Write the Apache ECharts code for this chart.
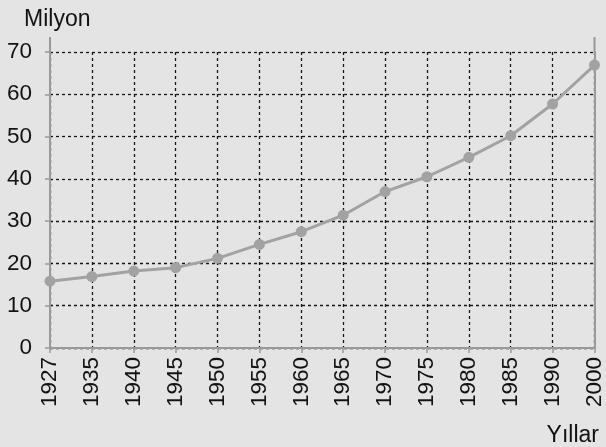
<!DOCTYPE html>
<html>
<head>
<meta charset="utf-8">
<script src="https://cdn.jsdelivr.net/npm/echarts@6/dist/echarts.min.js"></script>
<style>
html,body{margin:0;padding:0;background:#e4e4e4;}
#c{width:606px;height:447px;}
</style>
</head>
<body>
<div id="c"></div>
<script>
const years = ['1927','1935','1940','1945','1950','1955','1960','1965','1970','1975','1980','1985','1990','2000'];
const population = [15.8, 16.9, 18.2, 19.0, 21.2, 24.5, 27.5, 31.4, 37.0, 40.5, 45.1, 50.2, 57.7, 66.9];
const yTicks = [0, 10, 20, 30, 40, 50, 60, 70];
const yTitle = 'Milyon';
const xTitle = 'Yıllar';

(function () {
const FONT = 'Liberation Sans, Arial, sans-serif';
const TXT = '#121212';
const AXIS = '#999999';

const chart = echarts.init(document.getElementById('c'), null, {renderer: 'canvas'});
chart.setOption({
  backgroundColor: '#e4e4e4',
  animation: false,
  title: [
    {text: yTitle, left: 19, top: 3, textStyle: {fontFamily: FONT, fontSize: 23, fontWeight: 'normal', color: TXT}},
    {text: xTitle, right: 2, top: 419, textStyle: {fontFamily: FONT, fontSize: 23, fontWeight: 'normal', color: TXT}}
  ],
  grid: {left: 50, right: 10, top: 52, bottom: 99, containLabel: false},
  xAxis: {
    type: 'category',
    data: years,
    boundaryGap: false,
    axisLine: {show: true, lineStyle: {color: AXIS, width: 2}},
    axisTick: {show: true, length: 5, lineStyle: {color: AXIS, width: 1.5}},
    axisLabel: {rotate: 90, margin: 9, fontFamily: FONT, fontSize: 22.5, color: TXT, interval: 0},
    splitLine: {show: true, lineStyle: {color: '#151515', width: 1.3, type: [3, 3]}}
  },
  yAxis: [{
    type: 'value',
    min: yTicks[0],
    max: yTicks[yTicks.length - 1],
    interval: 10,
    axisLine: {show: true, lineStyle: {color: AXIS, width: 2}},
    axisTick: {show: true, length: 5, lineStyle: {color: AXIS, width: 1.5}},
    axisLabel: {margin: 18, fontFamily: FONT, fontSize: 22.5, color: TXT},
    splitLine: {show: true, lineStyle: {color: '#151515', width: 1.3, type: [3, 3]}}
  }, {
    type: 'value',
    position: 'right',
    min: yTicks[0],
    max: yTicks[yTicks.length - 1],
    interval: 10,
    axisLine: {show: true, lineStyle: {color: AXIS, width: 2}},
    axisTick: {show: false},
    axisLabel: {show: false},
    splitLine: {show: false}
  }],
  series: [{
    type: 'line',
    data: population,
    symbol: 'circle',
    symbolSize: 11,
    lineStyle: {color: '#a2a2a2', width: 3},
    itemStyle: {color: '#a2a2a2'},
    z: 5
  }]
});

// extend the two vertical axis lines a little above the top tick, as in the reference
const yTop = chart.convertToPixel({yAxisIndex: 0}, yTicks[yTicks.length - 1]);
const xl = chart.convertToPixel({xAxisIndex: 0}, years[0]);
const xr = chart.convertToPixel({xAxisIndex: 0}, years[years.length - 1]);
chart.setOption({
  graphic: [
    {type: 'line', shape: {x1: xl, y1: yTop, x2: xl, y2: yTop - 15}, style: {stroke: AXIS, lineWidth: 2}},
    {type: 'line', shape: {x1: xr, y1: yTop, x2: xr, y2: yTop - 15}, style: {stroke: AXIS, lineWidth: 2}}
  ]
});
})();
</script>
</body>
</html>
